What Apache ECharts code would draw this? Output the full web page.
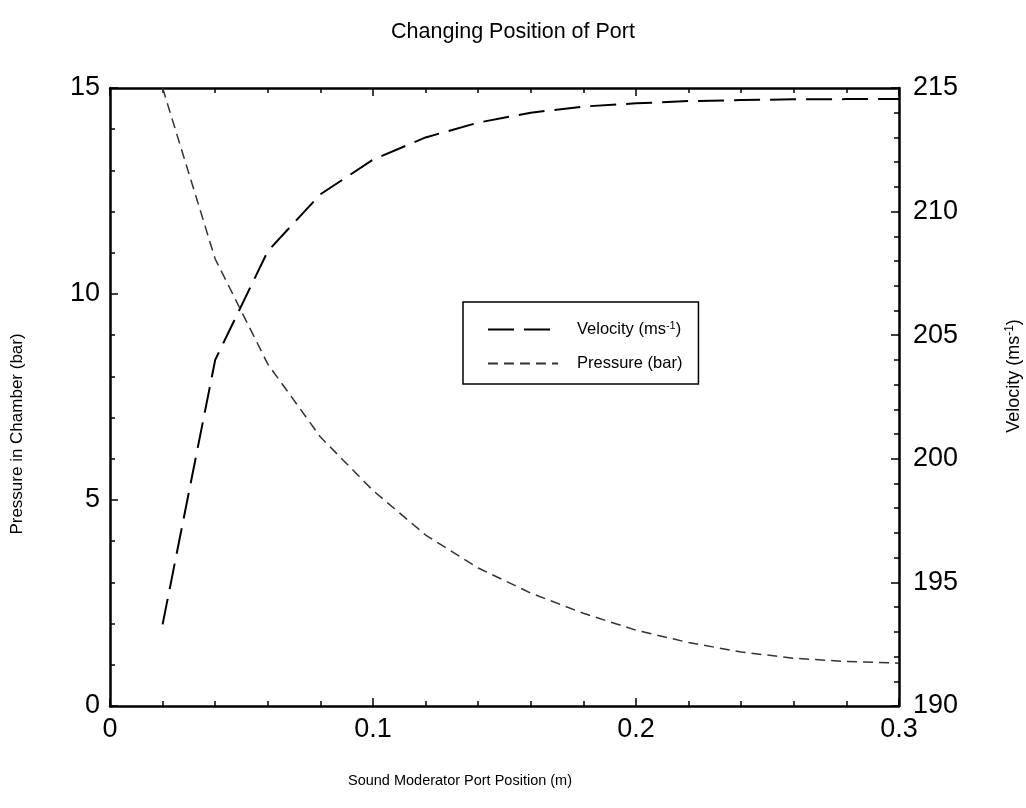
<!DOCTYPE html>
<html>
<head>
<meta charset="utf-8">
<title>Changing Position of Port</title>
<script src="https://cdn.jsdelivr.net/npm/echarts@6/dist/echarts.min.js"></script>
<style>
  html, body { margin: 0; padding: 0; background: #fff; }
  #demo { width: 1026px; height: 808px; }
</style>
</head>
<body>
<div id="demo"></div>
<script>
// port position (m)
var positions = [0.02, 0.04, 0.06, 0.08, 0.10, 0.12, 0.14, 0.16, 0.18, 0.20, 0.22, 0.24, 0.26, 0.28, 0.30];
// pressure in chamber (bar)
var pressure = [15, 10.85, 8.3, 6.53, 5.23, 4.15, 3.35, 2.74, 2.25, 1.84, 1.54, 1.31, 1.16, 1.08, 1.04];
// velocity (m/s)
var velocity = [193.3, 204.0, 208.4, 210.7, 212.1, 213.0, 213.6, 214.0, 214.25, 214.38, 214.47, 214.51, 214.54, 214.55, 214.56];

var FONT = "'Liberation Sans', Arial, sans-serif";

function pairs(xs, ys){
    var out = [];
    for (var i = 0; i < xs.length; i++) {
        out.push([xs[i], ys[i]]);
    }
    return out;
}

// every axis: thick black line, ticks pointing into the plot
function axisBase(){
    return {
        type: 'value',
        axisLine: { show: true, onZero: false, lineStyle: { color: '#000', width: 2.5 } },
        axisTick: { show: true, inside: true, length: 8, lineStyle: { color: '#000', width: 1.5 } },
        minorTick: { show: true, splitNumber: 5, length: 5, lineStyle: { color: '#000', width: 1.5 } },
        splitLine: { show: false },
        minorSplitLine: { show: false }
    };
}

var labelStyle = { color: '#000', fontSize: 27, fontFamily: FONT };

var xBottom = axisBase();
xBottom.position = 'bottom';
xBottom.min = 0;
xBottom.max = 0.3;
xBottom.interval = 0.1;
xBottom.axisLabel = Object.assign({ margin: 10 }, labelStyle);

var xTop = axisBase();
xTop.position = 'top';
xTop.min = 0;
xTop.max = 0.3;
xTop.interval = 0.1;
xTop.axisLabel = { show: false };

var yLeft = axisBase();
yLeft.position = 'left';
yLeft.min = 0;
yLeft.max = 15;
yLeft.interval = 5;
yLeft.axisLabel = Object.assign({ margin: 10 }, labelStyle);

var yRight = axisBase();
yRight.position = 'right';
yRight.min = 190;
yRight.max = 215;
yRight.interval = 5;
yRight.axisLabel = Object.assign({ margin: 14 }, labelStyle);

function supRich(size){
    return {
        a: { fontSize: size, fontFamily: FONT, color: '#000' },
        sup: { fontSize: Math.round(size * 0.68), fontFamily: FONT, color: '#000', verticalAlign: 'top', padding: [0, 0, 8, 0] }
    };
}

var options = {
    backgroundColor: '#fff',
    animation: false,
    title: {
        text: 'Changing Position of Port',
        left: 'center',
        top: 16,
        textStyle: { color: '#000', fontSize: 21.5, fontWeight: 'normal', fontFamily: FONT }
    },
    grid: { left: 110, right: 127, top: 88, bottom: 102 },
    legend: {
        orient: 'vertical',
        left: 463,
        top: 302,
        padding: [18, 16, 12, 24],
        itemWidth: 70,
        itemHeight: 14,
        itemGap: 17,
        borderColor: '#000',
        borderWidth: 1.5,
        borderRadius: 0,
        itemStyle: { opacity: 0 },
        textStyle: { color: '#000', fontSize: 16.5, fontFamily: FONT, padding: [0, 0, 0, 14], rich: supRich(16.5) },
        formatter: function(name){
            if (name === 'Velocity') {
                return '{a|Velocity (ms}{sup|-1}{a|)}';
            }
            return '{a|Pressure (bar)}';
        },
        data: ['Velocity', 'Pressure']
    },
    xAxis: [xBottom, xTop],
    yAxis: [yLeft, yRight],
    graphic: [
        {
            type: 'text',
            x: 460,
            y: 781,
            style: { text: 'Sound Moderator Port Position (m)', fill: '#000', fontSize: 14.5, fontFamily: FONT, align: 'center', verticalAlign: 'middle' }
        },
        {
            type: 'text',
            x: 17,
            y: 434,
            rotation: Math.PI / 2,
            style: { text: 'Pressure in Chamber (bar)', fill: '#000', fontSize: 17, fontFamily: FONT, align: 'center', verticalAlign: 'middle' }
        },
        {
            type: 'text',
            x: 1014,
            y: 376,
            rotation: Math.PI / 2,
            style: {
                text: '{a|Velocity (ms}{sup|-1}{a|)}',
                rich: supRich(18),
                align: 'center',
                verticalAlign: 'middle'
            }
        }
    ],
    series: [
        {
            name: 'Velocity',
            type: 'line',
            xAxisIndex: 0,
            yAxisIndex: 1,
            symbol: 'none',
            lineStyle: { color: '#000', width: 2, type: [26, 10] },
            data: pairs(positions, velocity)
        },
        {
            name: 'Pressure',
            type: 'line',
            xAxisIndex: 0,
            yAxisIndex: 0,
            symbol: 'none',
            lineStyle: { color: '#333', width: 1.5, type: [10, 6] },
            data: pairs(positions, pressure)
        }
    ]
};

var myChart = echarts.init(document.getElementById('demo'), null, { renderer: 'canvas' });
myChart.setOption(options, true);
</script>
</body>
</html>
